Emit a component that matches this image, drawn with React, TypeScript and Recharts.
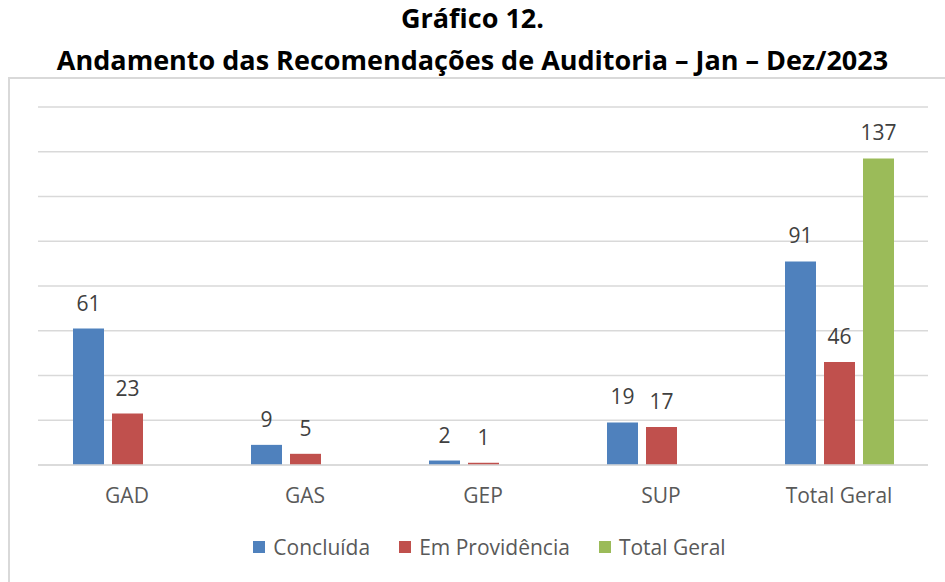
import React from 'react';
import { BarChart, Bar, XAxis, YAxis, CartesianGrid, LabelList } from 'recharts';

const categories = ['GAD', 'GAS', 'GEP', 'SUP', 'Total Geral'];
const concluida = [61, 9, 2, 19, 91];
const emProvidencia = [23, 5, 1, 17, 46];
const totalGeral = [null, null, null, null, 137];
const yTicks = [0, 20, 40, 60, 80, 100, 120, 140, 160];

const series = [
  { key: 'concluida', name: 'Concluída', color: '#4f81bd' },
  { key: 'emProvidencia', name: 'Em Providência', color: '#c0504d' },
  { key: 'totalGeral', name: 'Total Geral', color: '#9bbb59' },
];

const data = categories.map((name, i) => ({
  name,
  concluida: concluida[i],
  emProvidencia: emProvidencia[i],
  totalGeral: totalGeral[i],
}));

const chartFont = '"Open Sans", sans-serif';

const App = () => {
  return (
    <div style={{ position: 'absolute', left: 0, top: 0, width: 945, height: 582, background: '#fff', overflow: 'hidden' }}>
      {/* frame */}
      <div style={{ position: 'absolute', left: 8, top: 77, width: 960, height: 520, border: '2px solid #d9d9d9' }} />

      {/* title */}
      <div style={{ position: 'absolute', left: 0, top: 0, width: 945, textAlign: 'center', fontFamily: '"Open Sans", sans-serif', fontWeight: 'bold', fontSize: 27, color: '#000' }}>
        <div style={{ lineHeight: '36px' }}>Gráfico 12.</div>
        <div style={{ lineHeight: '47px' }}>Andamento das Recomendações de Auditoria – Jan – Dez/2023</div>
      </div>

      <div style={{ position: 'absolute', left: 0, top: 0 }}>
        <BarChart width={945} height={582} data={data} barSize={31} barGap={8}
          margin={{ top: 107, right: 17, bottom: 77, left: 38 }}>
          <CartesianGrid vertical={false} stroke="#d9d9d9" strokeWidth={1.5} />
          <YAxis hide domain={[0, 160]} ticks={yTicks} width={0} />
          <XAxis dataKey="name" axisLine={{ stroke: '#d9d9d9', strokeWidth: 1.5 }} tickLine={false} height={40}
            tick={{ fill: '#595959', fontSize: 21, fontFamily: chartFont }} dy={15} />
          {series.map((s) => (
            <Bar key={s.key} dataKey={s.key} name={s.name} fill={s.color} isAnimationActive={false}>
              <LabelList dataKey={s.key} position="top" offset={18}
                style={{ fill: '#404040', fontSize: 21, fontFamily: chartFont }} />
            </Bar>
          ))}
        </BarChart>
      </div>

      {/* legend */}
      <div style={{ position: 'absolute', left: 0, top: 533, width: 945, display: 'flex', justifyContent: 'center', fontFamily: chartFont, fontSize: 21, color: '#595959' }}>
        <div style={{ display: 'flex', gap: 29, marginLeft: 34 }}>
          {series.map((s) => (
            <div key={s.key} style={{ display: 'flex', alignItems: 'center' }}>
              <span style={{ display: 'inline-block', width: 12, height: 12, background: s.color, marginRight: 8 }} />
              <span>{s.name}</span>
            </div>
          ))}
        </div>
      </div>
    </div>
  );
};

export default App;
